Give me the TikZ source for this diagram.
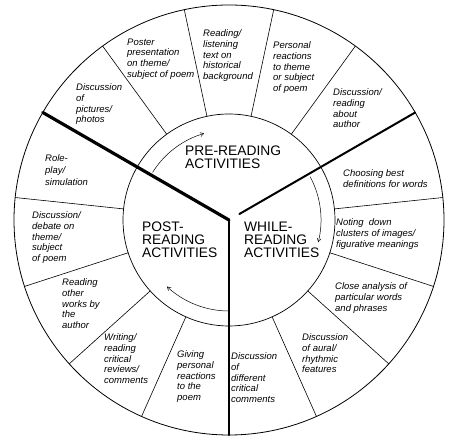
\documentclass[tikz,border=0pt]{standalone}
\usepackage{fontspec}
\setmainfont{Liberation Sans}
\usetikzlibrary{arrows}
\tikzset{
  hand/.style={anchor=north west,align=left,inner sep=0pt,font=\fontsize{9.5}{10.8}\selectfont\itshape},
  stagelabel/.style={anchor=north west,align=left,inner sep=0pt,font=\fontsize{13.8}{12.7}\selectfont}
}

\begin{document}
\begin{tikzpicture}[line cap=round,line join=round,>=angle 60,x=1pt,y=1pt]
	\useasboundingbox (-229,-218) rectangle (227,220);
	\draw[line width=0.8pt] (0,0) circle (215);
	\draw[line width=0.7pt] (0,0) circle (106);
	\foreach \a in {6,54,78,102,126,174,198,222,246,294,318,342}
	\draw[line width=0.6pt] (\a:106) -- (\a:215);
	\draw[line width=3.2pt] (0,0) -- (150:215);
	\draw[line width=2pt] (30:12) -- (30:215);
	\draw[line width=2.2pt] (0,0) -- (270:215);
	\draw[->,line width=0.5pt] (148:90) arc (148:106:90);
	\draw[->,line width=0.5pt] (28:92) arc (28:-14:92);
	\draw[->,line width=0.5pt] (270:91) arc (270:227:91);
	% the three stages
	\draw (-44,74) node[stagelabel] (pre) {PRE-READING\\ACTIVITIES};
	\draw (15,-2) node[stagelabel] (while) {WHILE-\\READING\\ACTIVITIES};
	\draw (-87,-2) node[stagelabel] (post) {POST-\\READING\\ACTIVITIES};
	% pre-reading
	\draw (-153,136.6) node[hand] (pictures) {Discussion\\of\\pictures/\\photos};
	\draw (-102,181.6) node[hand] (poster) {Poster\\presentation\\on theme/\\subject of poem};
	\draw (-26,190.6) node[hand] (listening) {Reading/\\listening\\text on\\historical\\background};
	\draw (44,178.6) node[hand] (personal) {Personal\\reactions\\to theme\\or subject\\of poem};
	\draw (104,131.6) node[hand] (author) {Discussion/\\reading\\about\\author};
	% while-reading
	\draw (114,50.6) node[hand] (choosing) {Choosing best\\definitions for words};
	\draw (107,1.6) node[hand] (noting) {Noting\ \ down\\clusters of images/\\figurative meanings};
	\draw (106,-62.4) node[hand] (close) {Close analysis of\\particular words\\and phrases};
	\draw (73,-113.4) node[hand] (aural) {Discussion\\of aural/\\rhythmic\\features};
	\draw (2,-132.4) node[hand] (critical) {Discussion\\of\\different\\critical\\comments};
	% post-reading
	\draw (-52,-130.4) node[hand] (giving) {Giving\\personal\\reactions\\to the\\poem};
	\draw (-125,-113.4) node[hand] (writing) {Writing/\\reading\\critical\\reviews/\\comments};
	\draw (-167,-58.4) node[hand] (works) {Reading\\other\\works by\\the\\author};
	\draw (-197,8.6) node[hand] (debate) {Discussion/\\debate on\\theme/\\subject\\of poem};
	\draw (-184,65.6) node[hand,font=\fontsize{9.5}{12}\selectfont\itshape] (role) {Role-\\play/\\simulation};
\end{tikzpicture}
\end{document}
